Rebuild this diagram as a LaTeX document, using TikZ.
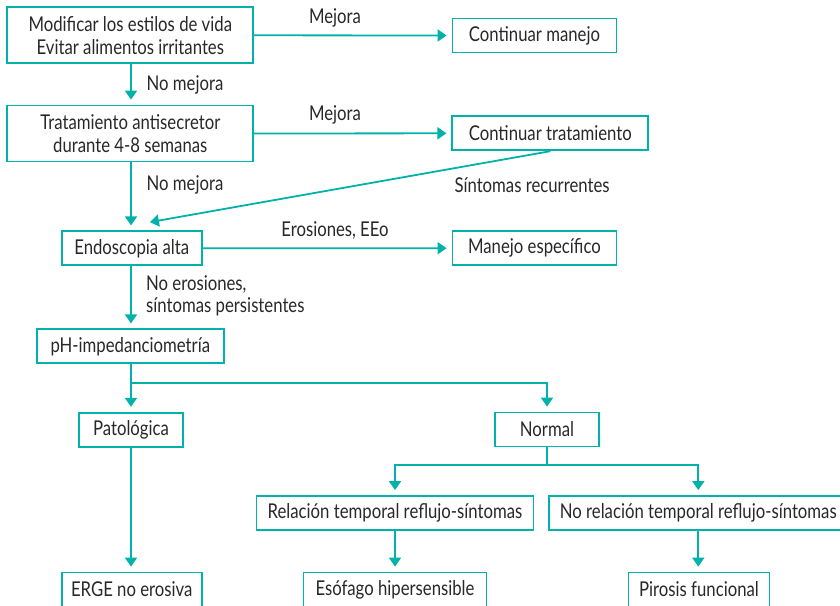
\documentclass[tikz,border=0pt]{standalone}
\usepackage{fontspec}
\setmainfont[FakeStretch=0.82]{Lato}
\usetikzlibrary{arrows.meta}

\definecolor{flowteal}{RGB}{0,178,169}
\definecolor{flowink}{RGB}{40,40,40}

\tikzset{
  box/.style={draw=flowteal, line width=1.8pt, inner sep=0pt, minimum height=34pt,
    text=flowink, align=center, font=\fontsize{20.4}{23.3}\selectfont},
  lbl/.style={text=flowink, inner sep=0pt, align=left, font=\fontsize{20.4}{21.7}\selectfont},
  arrow/.style={draw=flowteal, line width=1.8pt, -{Triangle[width=12pt,length=9pt]}, shorten >=5pt},
  link/.style={draw=flowteal, line width=1.8pt}
}

\begin{document}
\begin{tikzpicture}[x=1pt, y=-1pt]
      \useasboundingbox (0,0) rectangle (840,605);

      % Define the column positions
      \def\LeftCol{131}
      \def\MidCol{534.5}

      % First steps
      \node[box, minimum width=246pt, minimum height=56pt] (mod) at (130.3,35.3) {Modificar los estilos de vida\\Evitar alimentos irritantes};
      \node[box, minimum width=164pt] (cman) at (\MidCol,35.5) {Continuar manejo};
      \node[box, minimum width=246pt, minimum height=56pt] (trat) at (130.3,133.5) {Tratamiento antisecretor\\durante 4-8 semanas};
      \node[box, minimum width=196pt] (ctrat) at (550.3,133.3) {Continuar tratamiento};
      \node[box, minimum width=140pt] (endo) at (131.7,248.3) {Endoscopia alta};
      \node[box, minimum width=164pt] (mesp) at (\MidCol,248.2) {Manejo específico};
      \node[box, minimum width=187pt] (ph) at (130.3,346.3) {pH-impedanciometría};

      % Results of the pH test
      \node[box, minimum width=104pt] (pat) at (\LeftCol,429.7) {Patológica};
      \node[box, minimum width=104pt] (norm) at (547,429.5) {Normal};
      \node[box, minimum width=277pt] (rel) at (395,513) {Relación temporal reflujo-síntomas};
      \node[box, minimum width=298pt] (norel) at (698.3,513) {No relación temporal reflujo-síntomas};

      % Diagnoses (cut by the page bottom)
      \node[box, minimum width=140pt] (erge) at (131.7,589.5) {ERGE no erosiva};
      \node[box, minimum width=183pt] (esof) at (395,589.5) {Esófago hipersensible};
      \node[box, minimum width=141pt] (piro) at (699,589.5) {Pirosis funcional};

      % Draw the connectors
      \draw[arrow] (mod.east) -- (cman.west);
      \draw[arrow] (mod.south -| \LeftCol,0) -- (trat.north -| \LeftCol,0);
      \draw[arrow] (trat.east) -- (ctrat.west);
      \draw[arrow] (trat.south -| \LeftCol,0) -- (endo.north -| \LeftCol,0);
      \coordinate (recTip) at (145,223);
      \draw[arrow] (ctrat.south) -- (recTip);
      \draw[arrow] (endo.east) -- (mesp.west);
      \draw[arrow] (endo.south -| \LeftCol,0) -- (ph.north -| \LeftCol,0);
      \draw[arrow] (ph.south -| \LeftCol,0) -- (pat.north -| \LeftCol,0);
      \draw[arrow] (ph.south -| \LeftCol,0) -- ++(0,18.4) -| (norm.north);
      \draw[arrow] (norm.south) -- ++(0,17.5) -| (rel.north);
      \draw[arrow] (norm.south) -- ++(0,17.5) -| (norel.north);
      \draw[arrow] (pat.south) -- (erge.north -| pat.south);
      \draw[arrow] (rel.south) -- (esof.north);
      \draw[arrow] (norel.south) -- (piro.north -| norel.south);

      % Label the connectors
      \node[lbl] (mej1) at (335,18) {Mejora};
      \node[lbl] (mej2) at (335,115) {Mejora};
      \node[lbl, anchor=west] (nomej1) at (146.5,85) {No mejora};
      \node[lbl, anchor=west] (nomej2) at (146.5,185) {No mejora};
      \node[lbl, anchor=west] (recur) at (454.3,185) {Síntomas recurrentes};
      \node[lbl] (eros) at (335,230) {Erosiones, EEo};
      \node[lbl, anchor=west] (noeros) at (146,296) {No erosiones,\\síntomas persistentes};
\end{tikzpicture}
\end{document}
